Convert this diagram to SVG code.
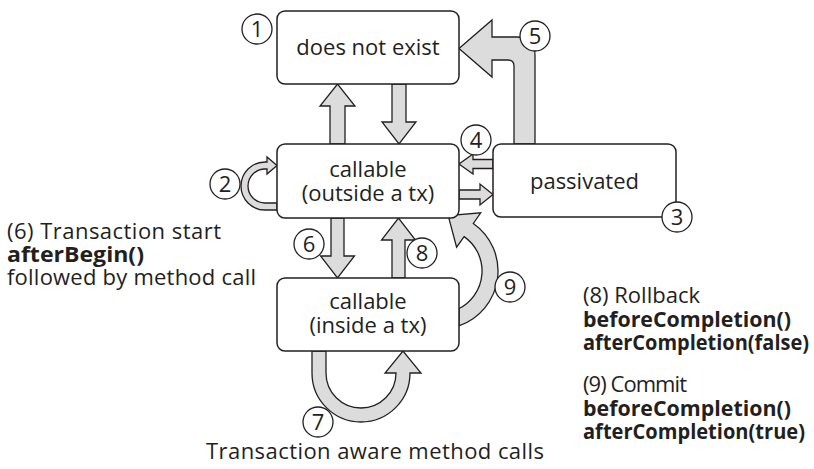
<svg xmlns="http://www.w3.org/2000/svg" width="814" height="469" viewBox="0 0 814 469">
<style>
text{font-family:"Open Sans","Noto Sans","Liberation Sans",sans-serif;font-size:22px;fill:#231f20}
.b{font-weight:bold}
.s{font-size:20.5px}
.box{fill:#fff;stroke:#231f20;stroke-width:1.5}
.arr{fill:#dcdcdc;stroke:#231f20;stroke-width:1.3;stroke-linejoin:miter}
.num{fill:#fff;stroke:#231f20;stroke-width:1.3}
.c{text-anchor:middle}
</style>
<g id="connectors">
<path class="arr" d="M330,144 L330,106 L320,106 L337.5,84 L355,106 L345,106 L345,144 Z"/>
<path class="arr" d="M392,84 L392,122 L382,122 L399,144 L416,122 L406,122 L406,84 Z"/>
<path class="arr" d="M331,218 L331,256 L320.5,256 L337.5,278 L354.5,256 L344,256 L344,218 Z"/>
<path class="arr" d="M392,278 L392,240 L381.5,240 L398.5,218 L415.5,240 L405,240 L405,278 Z"/>
<path class="arr" d="M493,159.5 L473,159.5 L473,154 L459,164 L473,174 L473,168.5 L493,168.5 Z"/>
<path class="arr" d="M459,190 L480,190 L480,184 L493,194.5 L480,205 L480,199 L459,199 Z"/>
<path class="arr" d="M514,144 L514,66 Q514,60 508,60 L492,60 L492,77 L459,48.5 L492,20 L492,37 L517,37 A18,18 0 0 1 535,55 L535,144 Z"/>
<path class="arr" d="M277,203 L265,203 A17,17 0 0 1 265,169 L267,169 L267,174 L277,165.5 L267,157 L267,162 L265,162 A24,24 0 0 0 265,210 L277,210 Z"/>
<path class="arr" d="M312,351 L312,373 A49,49 0 0 0 410,373 L421,373 L403,351 L385,373 L396,373 A35,35 0 0 1 326,373 L326,351 Z"/>
<path class="arr" d="M459,308.5 A42,42 0 0 0 464.1,236.6 L456.6,247.2 L448.2,215.7 L480.7,212.8 L473.3,223.5 A58,58 0 0 1 459,325.8 Z"/>
</g>
<g id="node-does-not-exist">
<rect class="box" x="277" y="11" width="182" height="73" rx="8"/>
<text class="c" x="368" y="55">does not exist</text>
</g>
<g id="node-callable-outside">
<rect class="box" x="277" y="144" width="182" height="74" rx="8"/>
<text class="c" x="368" y="177">callable</text>
<text class="c" x="368" y="201">(outside a tx)</text>
</g>
<g id="node-passivated">
<rect class="box" x="493" y="144" width="183" height="73" rx="8"/>
<text class="c" x="584.5" y="189">passivated</text>
</g>
<g id="node-callable-inside">
<rect class="box" x="277" y="278" width="182" height="73" rx="8"/>
<text class="c" x="368" y="309">callable</text>
<text class="c" x="368" y="333">(inside a tx)</text>
</g>
<g id="markers">
<g id="m1"><circle class="num" cx="257" cy="29" r="15"/><text class="c" x="257" y="37">1</text></g>
<g id="m2"><circle class="num" cx="225" cy="184" r="15"/><text class="c" x="225" y="192">2</text></g>
<g id="m3"><circle class="num" cx="677" cy="217" r="15"/><text class="c" x="677" y="225">3</text></g>
<g id="m4"><circle class="num" cx="476" cy="140" r="15"/><text class="c" x="476" y="148">4</text></g>
<g id="m5"><circle class="num" cx="535" cy="36" r="15"/><text class="c" x="535" y="44">5</text></g>
<g id="m6"><circle class="num" cx="309" cy="244" r="15"/><text class="c" x="309" y="252">6</text></g>
<g id="m7"><circle class="num" cx="318" cy="422" r="15"/><text class="c" x="318" y="430">7</text></g>
<g id="m8"><circle class="num" cx="422" cy="253" r="15"/><text class="c" x="422" y="261">8</text></g>
<g id="m9"><circle class="num" cx="510" cy="287" r="15"/><text class="c" x="510" y="295">9</text></g>
</g>
<g id="notes">
<text x="7" y="239" textLength="214">(6) Transaction start</text>
<text class="b" x="7" y="262" textLength="137" lengthAdjust="spacingAndGlyphs">afterBegin()</text>
<text x="7" y="285" textLength="249">followed by method call</text>
<text x="583" y="303">(8) Rollback</text>
<text class="b s" x="583" y="327" textLength="208" lengthAdjust="spacingAndGlyphs">beforeCompletion()</text>
<text class="b s" x="583" y="350" textLength="226" lengthAdjust="spacingAndGlyphs">afterCompletion(false)</text>
<text x="583" y="392" textLength="104">(9) Commit</text>
<text class="b s" x="583" y="416" textLength="208" lengthAdjust="spacingAndGlyphs">beforeCompletion()</text>
<text class="b s" x="583" y="439" textLength="222" lengthAdjust="spacingAndGlyphs">afterCompletion(true)</text>
<text class="c" x="375" y="459" textLength="338">Transaction aware method calls</text>
</g>
</svg>
